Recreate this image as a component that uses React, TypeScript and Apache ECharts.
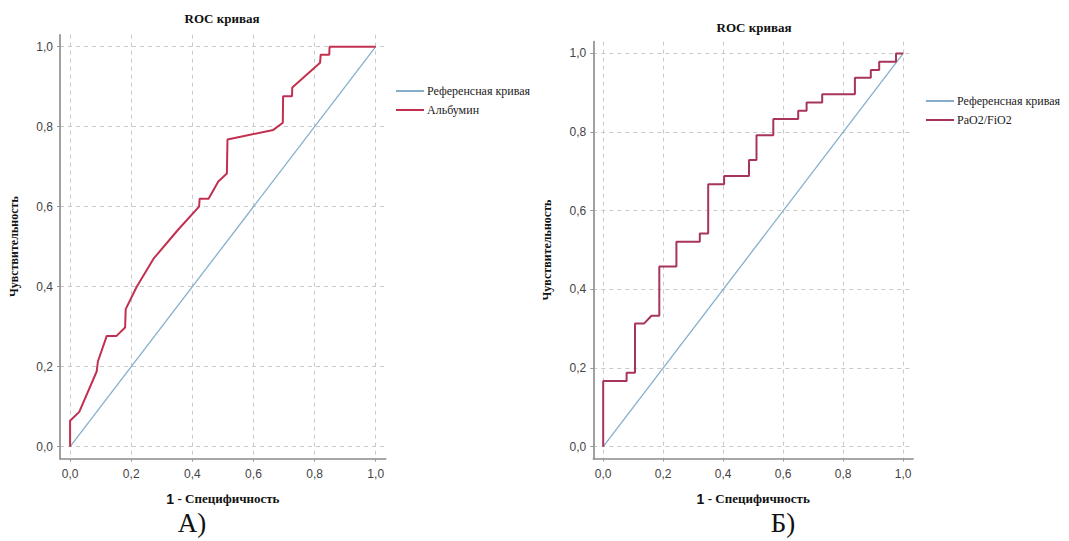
import React, { useEffect, useRef } from "react";
import * as echarts from "echarts";

const TICKS = [0, 0.2, 0.4, 0.6, 0.8, 1.0];
const REF_X = [0, 1];
const REF_Y = [0, 1];

const ALB_FPR = [0, 0, 0.03, 0.087, 0.091, 0.12, 0.152, 0.18, 0.182, 0.218, 0.273, 0.354, 0.422, 0.424, 0.453, 0.485, 0.513, 0.515, 0.665, 0.696, 0.697, 0.726, 0.727, 0.818, 0.82, 0.848, 0.849, 1];
const ALB_TPR = [0, 0.065, 0.087, 0.188, 0.213, 0.277, 0.277, 0.298, 0.344, 0.4, 0.47, 0.543, 0.6, 0.62, 0.62, 0.663, 0.683, 0.768, 0.792, 0.81, 0.876, 0.876, 0.898, 0.96, 0.98, 0.98, 1, 1];

const PF_FPR = [0, 0, 0.078, 0.078, 0.106, 0.106, 0.136, 0.161, 0.187, 0.187, 0.244, 0.244, 0.322, 0.322, 0.35, 0.35, 0.403, 0.403, 0.486, 0.486, 0.511, 0.511, 0.567, 0.567, 0.65, 0.65, 0.678, 0.678, 0.73, 0.73, 0.839, 0.839, 0.892, 0.892, 0.92, 0.92, 0.976, 0.976, 1];
const PF_TPR = [0, 0.167, 0.167, 0.188, 0.188, 0.313, 0.313, 0.333, 0.333, 0.458, 0.458, 0.521, 0.521, 0.542, 0.542, 0.667, 0.667, 0.688, 0.688, 0.729, 0.729, 0.792, 0.792, 0.833, 0.833, 0.854, 0.854, 0.875, 0.875, 0.896, 0.896, 0.938, 0.938, 0.958, 0.958, 0.979, 0.979, 1, 1];

const TITLE = "ROC кривая";
const Y_NAME = "Чувствительность";
const X_NAME_NUM = "1";
const X_NAME_TXT = "- Специфичность";
const REF_NAME = "Референсная кривая";
const NAME_A = "Альбумин";
const NAME_B = "PaO2/FiO2";
const PANEL_A = "А)";
const PANEL_B = "Б)";

const REF_COLOR = "#86aecb";
const SERIF = "'Liberation Serif', 'DejaVu Serif', serif";
const SANS = "'Liberation Sans', Arial, sans-serif";

const zip = (a: number[], b: number[]) => a.map((v, i) => [v, b[i]]);
const fmt = (v: number) => v.toFixed(1).replace(".", ",");

function makeX(gridIndex: number) {
  return {
    type: "value",
    gridIndex,
    min: -0.033,
    max: 1.033,
    name: `{a|${X_NAME_NUM}} {b|${X_NAME_TXT}}`,
    nameLocation: "middle",
    nameGap: 33,
    nameTextStyle: {
      rich: {
        a: { fontFamily: SANS, fontWeight: "bold", fontSize: 14, color: "#111" },
        b: { fontFamily: SERIF, fontWeight: "bold", fontSize: 13, color: "#111" },
      },
    },
    axisLine: { show: true, onZero: false, lineStyle: { color: "#8a8a8a", width: 1.6 } },
    axisTick: { show: true, length: 3, customValues: TICKS, lineStyle: { color: "#999" } },
    axisLabel: {
      customValues: TICKS,
      formatter: fmt,
      margin: 9,
      fontFamily: SANS,
      fontSize: 12,
      color: "#444",
    },
    splitLine: { show: true, lineStyle: { type: [4, 4], color: "#c9c9c9", width: 1 } },
  };
}

function makeY(gridIndex: number) {
  return {
    type: "value",
    gridIndex,
    min: -0.03,
    max: 1.03,
    name: Y_NAME,
    nameLocation: "middle",
    nameRotate: 90,
    nameGap: 40,
    nameTextStyle: { fontFamily: SERIF, fontWeight: "bold", fontSize: 12, color: "#111" },
    axisLine: { show: true, onZero: false, lineStyle: { color: "#8a8a8a", width: 1.6 } },
    axisTick: { show: true, length: 3, customValues: TICKS, lineStyle: { color: "#999" } },
    axisLabel: {
      customValues: TICKS,
      formatter: fmt,
      margin: 7,
      fontFamily: SANS,
      fontSize: 12,
      color: "#444",
    },
    splitLine: { show: true, lineStyle: { type: [4, 4], color: "#c9c9c9", width: 1 } },
  };
}

function legendFor(left: number, top: number, names: string[]) {
  return {
    orient: "vertical",
    left,
    top,
    data: names,
    icon: "rect",
    itemWidth: 28,
    itemHeight: 2,
    itemGap: 7,
    textStyle: { fontFamily: SERIF, fontSize: 12, color: "#222", padding: [0, 0, 0, -2] },
    selectedMode: false,
  };
}

export default function App() {
  const ref = useRef<HTMLDivElement>(null);
  useEffect(() => {
    if (!ref.current) return;
    const chart = echarts.init(ref.current, null, { renderer: "svg" });
    chart.setOption({
      animation: false,
      backgroundColor: "#ffffff",
      grid: [
        { left: 60, top: 34.7, width: 325.8, height: 424, containLabel: false, outerBoundsMode: "none" },
        { left: 593.3, top: 41.6, width: 319.8, height: 416.9, containLabel: false, outerBoundsMode: "none" },
      ],
      xAxis: [makeX(0), makeX(1)],
      yAxis: [makeY(0), makeY(1)],
      legend: [
        legendFor(391, 80, [REF_NAME, NAME_A]),
        legendFor(921, 90, [REF_NAME, NAME_B]),
      ],
      graphic: [
        { type: "text", x: 222, y: 18, style: { text: TITLE, fontFamily: SERIF, fontWeight: "bold", fontSize: 13, fill: "#111", align: "center", verticalAlign: "middle" } },
        { type: "text", x: 754, y: 27, style: { text: TITLE, fontFamily: SERIF, fontWeight: "bold", fontSize: 13, fill: "#111", align: "center", verticalAlign: "middle" } },
        { type: "text", x: 192, y: 523, style: { text: PANEL_A, fontFamily: SERIF, fontSize: 27, fill: "#111", align: "center", verticalAlign: "middle" } },
        { type: "text", x: 783, y: 523, style: { text: PANEL_B, fontFamily: SERIF, fontSize: 27, fill: "#111", align: "center", verticalAlign: "middle" } },
      ],
      series: [
        { type: "line", name: REF_NAME, xAxisIndex: 0, yAxisIndex: 0, data: zip(REF_X, REF_Y), symbol: "none", lineStyle: { color: REF_COLOR, width: 1.3 }, itemStyle: { color: REF_COLOR } },
        { type: "line", name: NAME_A, xAxisIndex: 0, yAxisIndex: 0, data: zip(ALB_FPR, ALB_TPR), symbol: "none", lineStyle: { color: "#c2304f", width: 2 }, itemStyle: { color: "#c2304f" } },
        { type: "line", name: REF_NAME, xAxisIndex: 1, yAxisIndex: 1, data: zip(REF_X, REF_Y), symbol: "none", lineStyle: { color: REF_COLOR, width: 1.3 }, itemStyle: { color: REF_COLOR } },
        { type: "line", name: NAME_B, xAxisIndex: 1, yAxisIndex: 1, data: zip(PF_FPR, PF_TPR), symbol: "none", lineStyle: { color: "#a8345a", width: 2 }, itemStyle: { color: "#a8345a" } },
      ],
    });
    return () => chart.dispose();
  }, []);
  return <div ref={ref} style={{ position: "absolute", left: 0, top: 0, width: 1069, height: 541 }} />;
}
